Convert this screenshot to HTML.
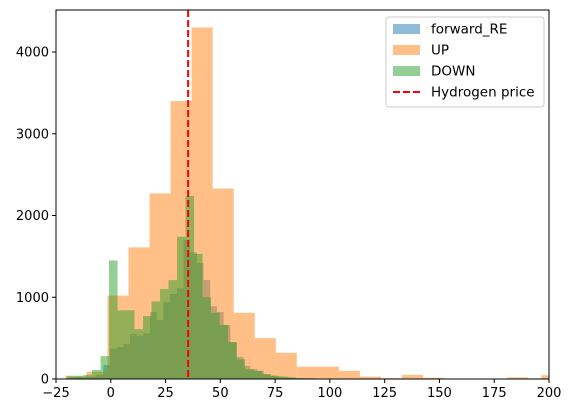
<!DOCTYPE html>
<html><head><meta charset="utf-8"><style>
body{margin:0;background:#fff;}
svg{display:block;font-family:"DejaVu Sans","Liberation Sans",sans-serif;}
</style></head><body>
<svg id="chart" width="573" height="413">
<g id="bars"></g>
<g id="axes"></g>
<g id="legend"></g>
</svg>
<script>
const upStart = -20.7, upWidth = 9.6;
const upValues = [30,90,1020,1610,2270,3400,4300,2330,810,500,320,150,150,100,30,10,50,15,5,5,5,20,8];
const upTailStart = 196.5, upTailValue = 45;
const reStart = -18.65, reWidth = 3.05;
const reValues = [20,25,25,30,50,170,370,390,430,550,530,560,820,720,940,1040,1110,1700,1550,1420,1210,890,820,660,450,270,160,120,100,60,40,30,20,15,10,10,8,5,5,5];
const downStart = -20.2, downWidth = 3.88;
const downValues = [40,40,50,110,280,1450,840,840,610,770,950,1100,1210,1740,2240,1530,1000,810,660,450,240,120,100,60,40,30,20,10,8,5];
const xTicks = [-25,0,25,50,75,100,125,150,175,200];
const yTicks = [0,1000,2000,3000,4000];
const hydrogenPrice = 35.3;

const L=56,R=549,T=10,B=379;
const xs=v=>L+(v+25)/225*(R-L);
const ys=v=>B-v*0.08175;
const NS="http://www.w3.org/2000/svg";
function mk(tag,attrs,parent){const e=document.createElementNS(NS,tag);for(const k in attrs)e.setAttribute(k,attrs[k]);parent.appendChild(e);return e;}
const bars=document.getElementById('bars');
function bar(a,b,v,color,name){
  const x0=Math.max(xs(a),L), x1=Math.min(xs(b),R);
  if(x1<=x0)return;
  const r=mk('rect',{x:x0,y:ys(v),width:x1-x0,height:B-ys(v),fill:color,'fill-opacity':0.5},bars);
  
  
}
function series(start,w,vals,color,name){
  vals.forEach((v,i)=>bar(start+i*w,start+(i+1)*w,v,color,name));
}
series(reStart,reWidth,reValues,'#1f77b4','forward-re');
series(upStart,upWidth,upValues,'#ff7f0e','up');
bar(upTailStart,upTailStart+upWidth,upTailValue,'#ff7f0e','up');
series(downStart,downWidth,downValues,'#2ca02c','down');
const ax=document.getElementById('axes');
const hl=mk('line',{x1:xs(hydrogenPrice),x2:xs(hydrogenPrice),y1:T,y2:B,stroke:'#ff0000','stroke-width':2,'stroke-dasharray':'7,3'},ax);


mk('rect',{x:L,y:T,width:R-L,height:B-T,fill:'none',stroke:'#000','stroke-width':1},ax);
xTicks.forEach(t=>{
  const x=xs(t);
  mk('line',{x1:x,x2:x,y1:B,y2:B+4,stroke:'#000'},ax);
  const tx=mk('text',{x:x,y:B+18,'text-anchor':'middle','font-size':13},ax);
  tx.textContent=t<0?'\u2212'+(-t):t;
  
  
});
yTicks.forEach(t=>{
  const y=ys(t);
  mk('line',{x1:L-4,x2:L,y1:y,y2:y,stroke:'#000'},ax);
  const tx=mk('text',{x:L-7,y:y+4.5,'text-anchor':'end','font-size':13},ax);
  tx.textContent=t;
  
  
});
const lg=document.getElementById('legend');
mk('rect',{x:386,y:17,width:158,height:90,fill:'#fff',stroke:'#ccc',rx:3},lg);
const entries=[['forward_RE','#1f77b4'],['UP','#ff7f0e'],['DOWN','#2ca02c'],['Hydrogen price','red']];
entries.forEach((e,i)=>{
  const y=29+i*21;
  if(i<3) mk('rect',{x:393,y:y-5,width:27,height:10,fill:e[1],'fill-opacity':0.5},lg);
  else mk('line',{x1:393,x2:420,y1:y,y2:y,stroke:'red','stroke-width':2,'stroke-dasharray':'7,3'},lg);
  const t=mk('text',{x:431,y:y+4.5,'font-size':13.5},lg);
  t.textContent=e[0];
  
  
});
</script>
</body></html>
